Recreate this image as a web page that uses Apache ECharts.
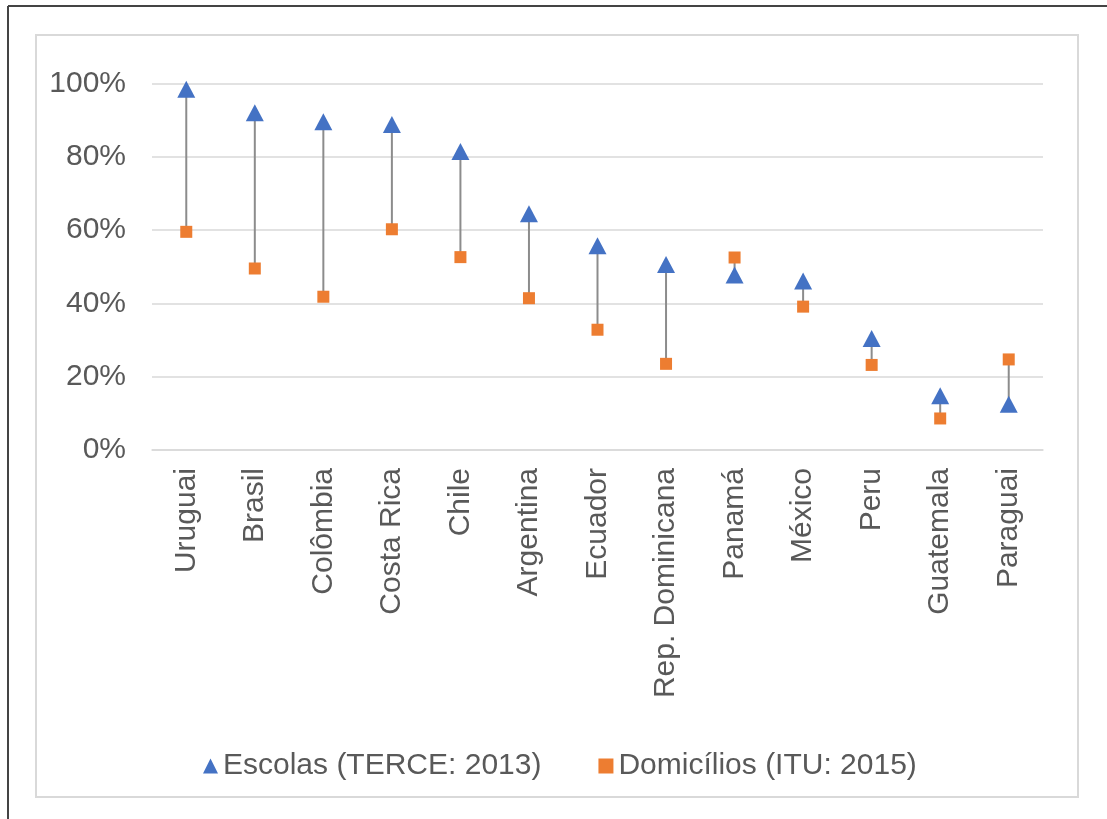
<!DOCTYPE html>
<html>
<head>
<meta charset="utf-8">
<script src="https://cdn.jsdelivr.net/npm/echarts@6/dist/echarts.min.js"></script>
<style>
html,body{margin:0;padding:0;background:#fff;}
#chart{width:1107px;height:819px;}
</style>
</head>
<body>
<div id="chart"></div>
<script>
const categories = ['Uruguai','Brasil','Colômbia','Costa Rica','Chile','Argentina','Ecuador','Rep. Dominicana','Panamá','México','Peru','Guatemala','Paraguai'];
const escolas = [98.4, 92.0, 89.5, 88.8, 81.4, 64.4, 55.7, 50.6, 47.7, 46.1, 30.4, 14.8, 12.5];
const domicilios = [59.5, 49.5, 41.8, 60.2, 52.6, 41.4, 32.8, 23.5, 52.5, 39.1, 23.2, 8.6, 24.7];
const yTicks = [0, 20, 40, 60, 80, 100];
const seriesNames = ['Escolas (TERCE: 2013)', 'Domicílios (ITU: 2015)'];

const FONT = '"Liberation Sans", Arial, sans-serif';
const TXT = '#595959';

const rangeData = categories.map((c, i) => [i, escolas[i], domicilios[i]]);

const chart = echarts.init(document.getElementById('chart'), null, {renderer: 'canvas'});
chart.setOption({
  animation: false,
  backgroundColor: '#ffffff',
  textStyle: {fontFamily: FONT},
  graphic: [
    {type: 'rect', shape: {x: 36, y: 35, width: 1042, height: 762}, style: {fill: 'none', stroke: '#d9d9d9', lineWidth: 2}, z: -1},
    {type: 'line', shape: {x1: 8, y1: 6, x2: 1107, y2: 6}, style: {stroke: '#444444', lineWidth: 2}},
    {type: 'line', shape: {x1: 8, y1: 6, x2: 8, y2: 819}, style: {stroke: '#444444', lineWidth: 2}}
  ],
  grid: {left: 152, right: 64, top: 83.33, bottom: 369, containLabel: false},
  legend: {
    top: 746,
    left: 198,
    itemGap: 57,
    itemWidth: 15,
    itemHeight: 15,
    textStyle: {color: TXT, fontSize: 30, fontFamily: FONT},
    data: [
      {name: seriesNames[0], icon: 'triangle'},
      {name: seriesNames[1], icon: 'rect'}
    ]
  },
  xAxis: {
    type: 'category',
    data: categories,
    boundaryGap: true,
    axisLine: {show: true, lineStyle: {color: '#d9d9d9', width: 1.5}},
    axisTick: {show: false},
    axisLabel: {rotate: 90, color: TXT, fontSize: 30, fontFamily: FONT, margin: 18, interval: 0}
  },
  yAxis: {
    type: 'value',
    min: yTicks[0],
    max: yTicks[yTicks.length - 1],
    interval: 20,
    axisLine: {show: false},
    axisTick: {show: false},
    splitLine: {lineStyle: {color: '#d9d9d9', width: 1.5}},
    axisLabel: {formatter: '{value}%', color: TXT, fontSize: 30, fontFamily: FONT, margin: 26}
  },
  series: [
    {
      type: 'custom',
      name: 'range',
      z: 1,
      silent: true,
      data: rangeData,
      renderItem: function (params, api) {
        const p1 = api.coord([api.value(0), api.value(1)]);
        const p2 = api.coord([api.value(0), api.value(2)]);
        return {
          type: 'line',
          shape: {x1: p1[0], y1: p1[1], x2: p2[0], y2: p2[1]},
          style: {stroke: '#8c8c8c', lineWidth: 2}
        };
      }
    },
    {
      type: 'scatter',
      name: seriesNames[0],
      z: 3,
      symbol: 'triangle',
      symbolSize: [18, 17],
      itemStyle: {color: '#4472C4', opacity: 1},
      data: escolas
    },
    {
      type: 'scatter',
      name: seriesNames[1],
      z: 4,
      symbol: 'rect',
      symbolSize: 12,
      itemStyle: {color: '#ED7D31', opacity: 1},
      data: domicilios
    }
  ]
});
</script>
</body>
</html>
